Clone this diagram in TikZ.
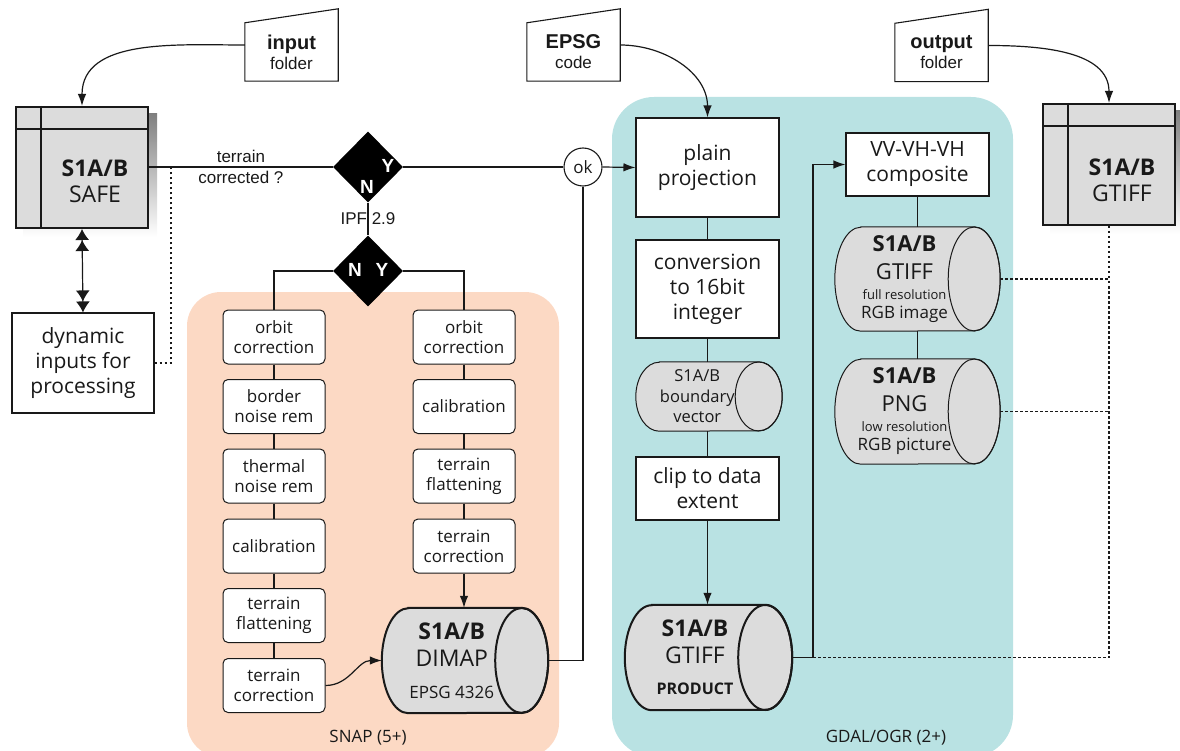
\documentclass[tikz,border=0pt]{standalone}
\usepackage{fontspec}
\setmainfont{Open Sans}
\newfontfamily\arialfam{Liberation Sans}
\usetikzlibrary{arrows.meta,shapes.geometric,calc}
\definecolor{snapbg}{RGB}{252,217,196}
\definecolor{gdalbg}{RGB}{185,226,227}
\definecolor{drumgray}{RGB}{220,220,220}
\definecolor{shade}{RGB}{128,128,128}
\definecolor{ink}{RGB}{25,25,25}
\pgfdeclarelayer{regions}
\pgfdeclarelayer{shapes}
\pgfsetlayers{regions,shapes,main}

% data store drawn as a lying cylinder around a named body node
% #1 node name, #2 x radius of the end face, #3 y radius, #4 line width
\newcommand\drum[4]{%
  \begin{pgfonlayer}{shapes}
    \path[fill=drumgray, draw=ink, line width=#4]
      ([xshift=#2pt]#1.north west) -- (#1.north east)
      arc[start angle=90, end angle=-90, x radius=#2pt, y radius=#3pt]
      -- ([xshift=#2pt]#1.south west)
      arc[start angle=270, end angle=90, x radius=#2pt, y radius=#3pt]
      -- cycle;
    \draw[draw=ink, line width=#4] (#1.east) ellipse[x radius=#2pt, y radius=#3pt];
  \end{pgfonlayer}
  \coordinate (#1-r) at ([xshift=#2pt]#1.east);
}

% framed product box with drop shadow and header/side bars
\newcommand\framedecor[1]{%
  \begin{pgfonlayer}{shapes}
    \fill[shade] ([shift={(8pt,-8pt)}]#1.south west) rectangle ([shift={(8pt,-8pt)}]#1.north east);
  \end{pgfonlayer}
  \draw[draw=ink, line width=2pt] ([xshift=26pt]#1.north west) -- ([xshift=26pt]#1.south west);
  \draw[draw=ink, line width=2pt] ([yshift=-23pt]#1.north west) -- ([yshift=-23pt]#1.north east);
}

\begin{document}
\begin{tikzpicture}[x=1pt, y=-1pt,
  every node/.style={text=ink},
  conn/.style={draw=ink, line width=1.2pt},
  arr/.style={conn, -{Latex[length=12pt, width=8.5pt]}},
  dbl/.style={conn, {Latex[length=11pt, width=14pt] Latex[length=11pt, width=14pt]}-{Latex[length=11pt, width=14pt] Latex[length=11pt, width=14pt]}},
  dotline/.style={draw=ink, line width=1.9pt, dash pattern=on 2.5pt off 2.5pt},
  snapbox/.style={draw=ink, rounded corners=5pt, fill=white, line width=1pt,
    minimum width=102pt, minimum height=54pt, inner sep=0pt, align=center,
    font=\fontsize{17}{20}\selectfont},
  plainbox/.style={draw=ink, fill=white, line width=1.1pt, inner sep=0pt,
    align=center, font=\fontsize{21}{25}\selectfont},
  gdalbox/.style={plainbox, minimum width=143pt},
  drumbody/.style={inner sep=0pt, align=center},
  framebox/.style={draw=ink, fill=drumgray, line width=2pt,
    minimum width=132pt, minimum height=121pt, inner sep=0pt},
  folder/.style={minimum width=93pt, minimum height=58pt, inner sep=0pt,
    align=center, font=\arialfam\fontsize{17}{20}\selectfont},
  folderline/.style={draw=ink, line width=1.1pt},
  decision/.style={diamond, fill=black, minimum width=70pt, minimum height=71pt, inner sep=0pt},
  yn/.style={text=white, font=\arialfam\bfseries\fontsize{19}{19}\selectfont, inner sep=0pt},
  arialtxt/.style={font=\arialfam\fontsize{17}{21}\selectfont, align=center, inner sep=0pt},
  regionlabel/.style={font=\fontsize{17}{17}\selectfont, inner sep=0pt}
]
\useasboundingbox (0,0) rectangle (1180,751);

% tool regions
\begin{pgfonlayer}{regions}
  \fill[snapbg, rounded corners=34pt] (187,292) rectangle (559,757);
  \fill[gdalbg, rounded corners=42pt] (612,97) rectangle (1013,757);
\end{pgfonlayer}
\node[regionlabel] (snapLbl) at (368,738) {SNAP (5+)};
\node[regionlabel] (gdalLbl) at (886,738) {GDAL/OGR (2+)};

% parameter inputs
\node[folder] (inF) at (291.5,52) {{\bfseries\fontsize{20}{20}\selectfont input}\\folder};
\draw[folderline] (inF.south west) -- (inF.north west) -- ([yshift=14pt]inF.north east) -- (inF.south east) -- cycle;
\node[folder] (epsg) at (573.5,52) {{\bfseries\fontsize{20}{20}\selectfont EPSG}\\code};
\draw[folderline] (epsg.south west) -- (epsg.north west) -- ([yshift=14pt]epsg.north east) -- (epsg.south east) -- cycle;
\node[folder] (outF) at (941.5,52.5) {{\bfseries\fontsize{20}{20}\selectfont output}\\folder};
\draw[folderline] (outF.south west) -- (outF.north west) -- ([yshift=14pt]outF.north east) -- (outF.south east) -- cycle;

% input product
\node[framebox] (safe) at (82,167.5) {};
\framedecor{safe}
\node[align=center, inner sep=0pt, font=\fontsize{23}{26}\selectfont] (safeT) at (95,181) {\textbf{S1A/B}\\SAFE};

% output product
\node[framebox] (gout) at (1109,164.5) {};
\framedecor{gout}
\node[align=center, inner sep=0pt, font=\fontsize{23}{26}\selectfont] (goutT) at (1122,180) {\textbf{S1A/B}\\GTIFF};

\node[plainbox, minimum width=142pt, minimum height=100pt] (dyn) at (83,363) {dynamic\\inputs for\\processing};

% decisions
\node[decision] (d1) at (368,167) {};
\node[decision] (d2) at (368,271) {};
\node[yn] (d1y) at (388,166) {Y};
\node[yn] (d1n) at (367,187) {N};
\node[yn] (d2n) at (355,270) {N};
\node[yn] (d2y) at (382,270) {Y};
\node[circle, draw=ink, fill=white, line width=1.1pt, minimum size=38pt, inner sep=0pt,
  font=\fontsize{17}{17}\selectfont] (ok) at (583,167) {ok};

% SNAP chains
\node[snapbox] (lc1) at (274,337) {orbit\\correction};
\node[snapbox] (lc2) at (274,406.5) {border\\noise rem};
\node[snapbox] (lc3) at (274,476) {thermal\\noise rem};
\node[snapbox] (lc4) at (274,546) {calibration};
\node[snapbox] (lc5) at (274,615.5) {terrain\\flattening};
\node[snapbox] (lc6) at (274,685.5) {terrain\\correction};
\node[snapbox] (rc1) at (464,337) {orbit\\correction};
\node[snapbox] (rc2) at (464,406.5) {calibration};
\node[snapbox] (rc3) at (464,476) {terrain\\flattening};
\node[snapbox] (rc4) at (464,546) {terrain\\correction};

\node[drumbody, minimum width=139.5pt, minimum height=105pt, font=\fontsize{23}{27}\selectfont]
  (dimap) at (451.75,660.5) {\textbf{S1A/B}\\DIMAP\\[5pt]{\fontsize{17}{17}\selectfont EPSG 4326}};
\drum{dimap}{26.5}{52.5}{2pt}

% GDAL chain
\node[gdalbox, minimum height=99pt] (plain) at (707.5,167.5) {plain\\projection};
\node[gdalbox, minimum height=98pt] (conv) at (707.5,289) {conversion\\to 16bit\\integer};
\node[drumbody, minimum width=122.5pt, minimum height=69pt, font=\fontsize{16.5}{20.5}\selectfont]
  (bnd) at (697.25,396.5) {S1A/B\\boundary\\vector};
\drum{bnd}{23.5}{34.5}{1pt}
\node[gdalbox, minimum height=63pt] (clip) at (707.5,488.5) {clip to data\\extent};
\node[drumbody, minimum width=140pt, minimum height=105pt, font=\fontsize{23}{27}\selectfont]
  (prod) at (695,657.5) {\textbf{S1A/B}\\GTIFF\\[4pt]{\fontsize{16}{16}\selectfont\bfseries PRODUCT}};
\drum{prod}{27}{52.5}{2pt}
\node[gdalbox, minimum height=63pt] (vv) at (917.5,164.5) {VV-VH-VH\\composite};
\node[drumbody, minimum width=139pt, minimum height=104pt, font=\fontsize{22}{28}\selectfont]
  (gtif) at (904.5,279) {\textbf{S1A/B}\\GTIFF\\[-8pt]{\fontsize{13}{13}\selectfont full resolution}\\[-9pt]{\fontsize{17}{17}\selectfont RGB image}};
\drum{gtif}{26}{52}{1pt}
\node[drumbody, minimum width=139pt, minimum height=105pt, font=\fontsize{22}{28}\selectfont]
  (png) at (904.5,411.5) {\textbf{S1A/B}\\PNG\\[-8pt]{\fontsize{13}{13}\selectfont low resolution}\\[-9pt]{\fontsize{17}{17}\selectfont RGB picture}};
\drum{png}{26}{52.5}{1pt}

% connectors
\draw[arr] ([yshift=7pt]inF.west) to[out=180, in=90] (safe.north);
\draw[arr] ([yshift=7pt]epsg.east) to[out=0, in=90] (plain.north);
\draw[arr] ([yshift=7pt]outF.east) to[out=0, in=90] (gout.north);
\draw[dbl] (safe.south) -- (dyn.north);
\coordinate (tap) at (171,167);
\draw[dotline] (dyn.east) -| (tap);
\draw[conn] (safe.east |- d1.west) -- node[arialtxt] (tcq) {terrain\\corrected ?} (d1.west);
\draw[conn] (d1.south) -- node[arialtxt] (ipf) {IPF 2.9} (d2.north);
\draw[conn] (d1.east) -- (ok.west);
\draw[arr] (ok.east) -- (plain.west);
\draw[conn] (ok.south) |- (dimap-r);
\draw[conn] (d2.west) -| (lc1.north);
\draw[conn] (d2.east) -| (rc1.north);
\draw[conn] (lc1.south) -- (lc2.north);
\draw[conn] (lc2.south) -- (lc3.north);
\draw[conn] (lc3.south) -- (lc4.north);
\draw[conn] (lc4.south) -- (lc5.north);
\draw[conn] (lc5.south) -- (lc6.north);
\draw[conn] (rc1.south) -- (rc2.north);
\draw[conn] (rc2.south) -- (rc3.north);
\draw[conn] (rc3.south) -- (rc4.north);
\draw[arr] (rc4.south) -- (rc4.south |- dimap.north);
\draw[arr] (lc6.east) to[out=0, in=180] (dimap.west);

\draw[conn] (plain.south) -- (conv.north);
\draw[conn] (conv.south) -- (conv.south |- bnd.north);
\draw[conn] (conv.south |- bnd.south) -- (clip.north);
\draw[arr] (clip.south) -- (clip.south |- prod.north);
\coordinate (jn) at (813,657.5);
\draw[arr] (prod-r) -- (jn) |- (vv.west);
\draw[conn] (vv.south) -- (vv.south |- gtif.north);
\draw[conn] (vv.south |- gtif.south) -- (vv.south |- png.north);

\draw[dotline] (jn) -- (gout.south |- jn);
\draw[dotline] (gout.south) -- (gout.south |- jn);
\draw[dotline] (gtif-r) -- (gout.south |- gtif-r);
\draw[dotline] (png-r) -- (gout.south |- png-r);
\end{tikzpicture}
\end{document}
